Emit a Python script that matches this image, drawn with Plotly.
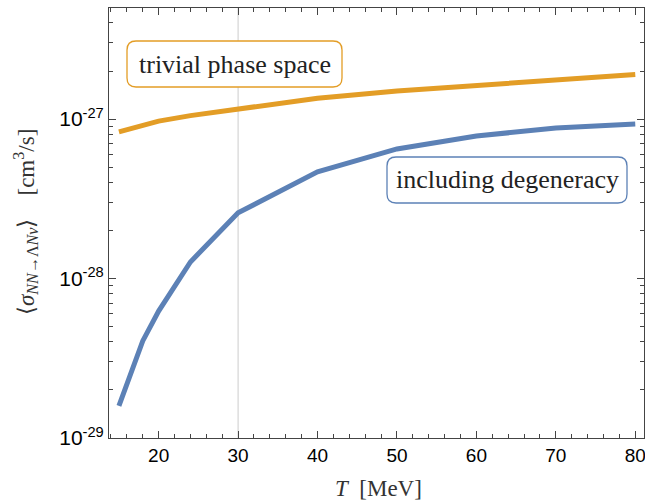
import plotly.graph_objects as go

T = [15, 18, 20, 24, 30, 40, 50, 60, 70, 80]
sigma_trivial = [8.3e-28, 9.2e-28, 9.7e-28, 1.05e-27, 1.16e-27, 1.35e-27, 1.50e-27, 1.63e-27, 1.76e-27, 1.90e-27]
sigma_degen = [1.59e-29, 4.06e-29, 6.25e-29, 1.27e-28, 2.58e-28, 4.66e-28, 6.49e-28, 7.82e-28, 8.79e-28, 9.3e-28]

x_ticks = [20, 30, 40, 50, 60, 70, 80]
y_ticks = [1e-29, 1e-28, 1e-27]
y_ticktext = ["10<sup>-29</sup>", "10<sup>-28</sup>", "10<sup>-27</sup>"]

label_trivial = "trivial phase space"
label_degen = "including degeneracy"
x_title = "<i>T</i>  [MeV]"
y_title = "⟨<i>σ</i><sub><i>NN</i>→Λ<i>Nv</i></sub>⟩    [cm<sup>3</sup>/s]"

ORANGE = "#E39D26"
BLUE = "#5C81B6"

W, H = 645, 502
ml, mr, mt, mb = 109, 1, 8, 64
xr = [13.75, 81.1]
yr = [-29.0, -26.304]
pw, ph = W - ml - mr, H - mt - mb


def X(p):
    return (p - ml) / pw


def Y(p):
    return 1 - (p - mt) / ph


fig = go.Figure()
fig.add_trace(go.Scatter(x=T, y=sigma_trivial, mode="lines",
                         line=dict(color=ORANGE, width=5), showlegend=False))
fig.add_trace(go.Scatter(x=T, y=sigma_degen, mode="lines",
                         line=dict(color=BLUE, width=5), showlegend=False))

fig.add_shape(type="line", x0=30, x1=30, y0=0, y1=1, xref="x", yref="paper",
              line=dict(color="#cccccc", width=1), layer="below")


def rounded_box(px0, py0, px1, py1, r, color, text):
    rx, ry = r / pw, r / ph
    x0, x1 = X(px0), X(px1)
    y0, y1 = Y(py1), Y(py0)
    path = (f"M {x0+rx},{y0} L {x1-rx},{y0} Q {x1},{y0} {x1},{y0+ry} "
            f"L {x1},{y1-ry} Q {x1},{y1} {x1-rx},{y1} L {x0+rx},{y1} "
            f"Q {x0},{y1} {x0},{y1-ry} L {x0},{y0+ry} Q {x0},{y0} {x0+rx},{y0} Z")
    fig.add_shape(type="path", path=path, xref="paper", yref="paper",
                  line=dict(color=color, width=1.3), fillcolor="white")
    fig.add_annotation(x=(x0 + x1) / 2, y=(y0 + y1) / 2, xref="paper", yref="paper",
                       xanchor="center", yanchor="middle",
                       text=text, showarrow=False,
                       font=dict(family="Liberation Serif", size=26, color="#222"))


rounded_box(127, 41, 342, 87, 9, ORANGE, label_trivial)
rounded_box(387, 157, 627, 203, 9, BLUE, label_degen)

fig.add_annotation(x=X(378), y=Y(488), xref="paper", yref="paper",
                   xanchor="center", yanchor="middle", showarrow=False, text=x_title,
                   font=dict(family="Liberation Serif", size=23, color="#333"))
fig.add_annotation(x=X(26), y=Y(222), xref="paper", yref="paper", textangle=-90,
                   xanchor="center", yanchor="middle", showarrow=False, text=y_title,
                   font=dict(family="Liberation Serif", size=23, color="#333"))

y_minor = [m * 10.0 ** e for e in (-29, -28, -27) for m in range(2, 10)]
x_minor = list(range(14, 82, 2))

axis_common = dict(showline=True, linecolor="#444", linewidth=1, mirror="allticks",
                   ticks="inside", ticklen=7, tickcolor="#444", showgrid=False,
                   zeroline=False, automargin=False, ticklabeloverflow="allow",
                   tickfont=dict(family="Liberation Sans", size=19, color="black"))

fig.update_xaxes(range=xr, tickvals=x_ticks, **axis_common,
                 minor=dict(tickvals=x_minor, ticks="inside", ticklen=4, tickcolor="#444"))
fig.update_yaxes(type="log", range=yr, tickvals=y_ticks, ticktext=y_ticktext, **axis_common,
                 minor=dict(tickvals=y_minor, ticks="inside", ticklen=4, tickcolor="#444"))
fig.update_yaxes(tickfont=dict(family="Liberation Sans", size=21, color="black"))

fig.update_layout(width=W, height=H, margin=dict(l=ml, r=mr, t=mt, b=mb),
                  plot_bgcolor="white", paper_bgcolor="white")

fig.write_html("out.html", config={"displayModeBar": False},
               post_script="document.body.style.margin='0';")
